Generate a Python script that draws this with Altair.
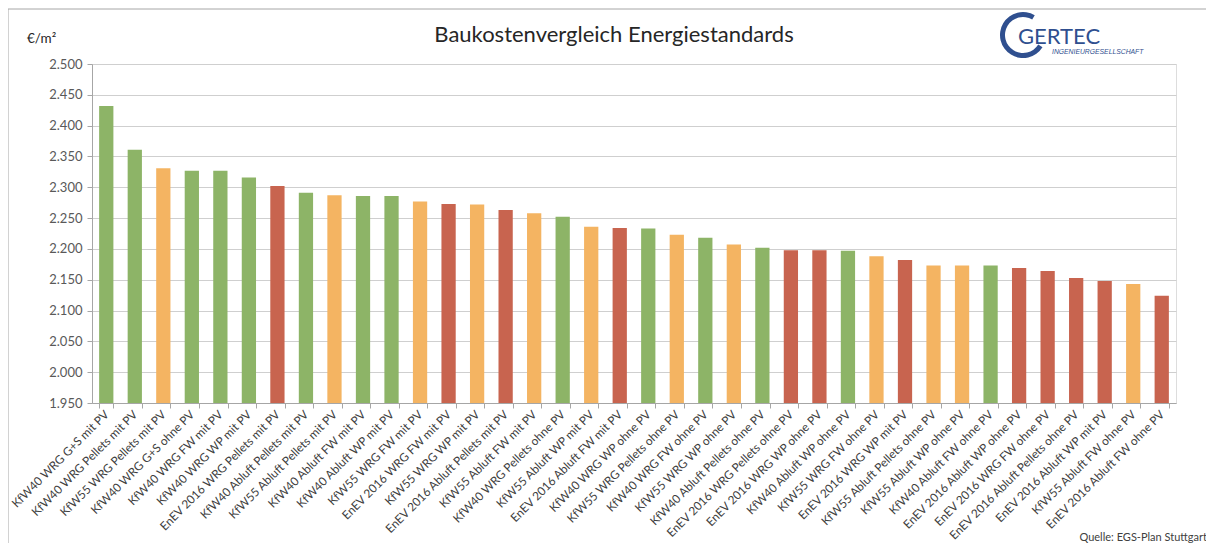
import altair as alt
import pandas as pd

labels = [
    "KfW40 WRG G+S mit PV", "KfW40 WRG Pellets mit PV", "KfW55 WRG Pellets mit PV",
    "KfW40 WRG G+S ohne PV", "KfW40 WRG FW mit PV", "KfW40 WRG WP mit PV",
    "EnEV 2016 WRG Pellets mit PV", "KfW40 Abluft Pellets mit PV", "KfW55 Abluft Pellets mit PV",
    "KfW40 Abluft FW mit PV", "KfW40 Abluft WP mit PV", "KfW55 WRG FW mit PV",
    "EnEV 2016 WRG FW mit PV", "KfW55 WRG WP mit PV", "EnEV 2016 Abluft Pellets mit PV",
    "KfW55 Abluft FW mit PV", "KfW40 WRG Pellets ohne PV", "KfW55 Abluft WP mit PV",
    "EnEV 2016 Abluft FW mit PV", "KfW40 WRG WP ohne PV", "KfW55 WRG Pellets ohne PV",
    "KfW40 WRG FW ohne PV", "KfW55 WRG WP ohne PV", "KfW40 Abluft Pellets ohne PV",
    "EnEV 2016 WRG Pellets ohne PV", "EnEV 2016 WRG WP ohne PV", "KfW40 Abluft WP ohne PV",
    "KfW55 WRG FW ohne PV", "EnEV 2016 WRG WP mit PV", "KfW55 Abluft Pellets ohne PV",
    "KfW55 Abluft WP ohne PV", "KfW40 Abluft FW ohne PV", "EnEV 2016 Abluft WP ohne PV",
    "EnEV 2016 WRG FW ohne PV", "EnEV 2016 Abluft Pellets ohne PV", "EnEV 2016 Abluft WP mit PV",
    "KfW55 Abluft FW ohne PV", "EnEV 2016 Abluft FW ohne PV",
]
values = [
    2432, 2361, 2331, 2327, 2327, 2316, 2302, 2291, 2287, 2286, 2286, 2277,
    2273, 2272, 2263, 2258, 2252, 2236, 2234, 2233, 2223, 2218, 2207, 2202,
    2198, 2198, 2197, 2188, 2182, 2173, 2173, 2173, 2169, 2164, 2153, 2148,
    2143, 2124,
]
y_ticks = [1950, 2000, 2050, 2100, 2150, 2200, 2250, 2300, 2350, 2400, 2450, 2500]
groups = ["KfW40", "KfW55", "EnEV 2016"]
group_colors = ["#8DB467", "#F4B462", "#C8644F"]

def group_of(label):
    for g in groups:
        if label.startswith(g):
            return g
    return groups[0]

df = pd.DataFrame({
    "Variante": labels,
    "Kosten": values,
    "Standard": [group_of(l) for l in labels],
})

W, H = 1084, 339
FONT = "Lato"
TXT = "#404040"

bars = alt.Chart(df).mark_bar().encode(
    x=alt.X(
        "Variante:N",
        sort=labels,
        scale=alt.Scale(paddingInner=0.5, paddingOuter=0.25),
        axis=alt.Axis(
            title=None, labelAngle=-45, labelAlign="right", labelBaseline="middle",
            labelFont=FONT, labelFontSize=11.8, labelColor=TXT, labelPadding=4,
            tickBand="extent", tickSize=5, tickColor="#A6A6A6",
            domainColor="#A6A6A6", grid=False, labelOverlap=False, labelLimit=300,
        ),
    ),
    y=alt.Y(
        "Kosten:Q",
        scale=alt.Scale(domain=[y_ticks[0], y_ticks[-1]], zero=False, nice=False),
        axis=alt.Axis(
            title=None, values=y_ticks,
            labelExpr="replace(format(datum.value, ',d'), ',', '.')",
            labelFont=FONT, labelFontSize=13, labelColor="#595959", labelPadding=5,
            tickSize=5, tickColor="#A6A6A6", domainColor="#A6A6A6",
            gridColor="#CFCFCF", gridWidth=1,
        ),
    ),
    y2=alt.datum(y_ticks[0]),
    color=alt.Color("Standard:N", scale=alt.Scale(domain=groups, range=group_colors), legend=None),
)

one = alt.Data(values=[{}])

border_top = alt.Chart(one).mark_rule(color="#A6A6A6", strokeWidth=1).encode(
    x=alt.value(-84), x2=alt.value(1200), y=alt.value(-55)
)
border_left = alt.Chart(one).mark_rule(color="#A6A6A6", strokeWidth=1).encode(
    x=alt.value(-84), y=alt.value(-55), y2=alt.value(600)
)

title = alt.Chart(one).mark_text(
    font=FONT, fontSize=22, color="#262626", align="center", baseline="middle"
).encode(x=alt.value(522), y=alt.value(-29), text=alt.value("Baukostenvergleich Energiestandards"))

unit = alt.Chart(one).mark_text(
    font=FONT, fontSize=13.5, color="#262626", align="left", baseline="middle"
).encode(x=alt.value(-65), y=alt.value(-25), text=alt.value("€/m²"))

source = alt.Chart(one).mark_text(
    font=FONT, fontSize=11, color="#404040", align="right", baseline="alphabetic"
).encode(x=alt.value(1115), y=alt.value(477), text=alt.value("Quelle: EGS-Plan Stuttgart"))

logo_arc = alt.Chart(one).mark_arc(
    color="#2F4F8F", theta=2.13, theta2=6.82, radius=23, radius2=18
).encode(x=alt.value(931), y=alt.value(-29))

logo_text = alt.Chart(one).mark_text(
    font=FONT, fontSize=22, color="#2F4F8F", align="left", baseline="alphabetic"
).encode(x=alt.value(926), y=alt.value(-20), text=alt.value("GERTEC"))

logo_sub = alt.Chart(one).mark_text(
    font="Liberation Sans", fontSize=6.8, fontStyle="italic", color="#2F4F8F",
    align="left", baseline="alphabetic"
).encode(x=alt.value(960), y=alt.value(-10), text=alt.value("INGENIEURGESELLSCHAFT"))

chart = alt.layer(
    border_top, border_left, bars, title, unit, source, logo_arc, logo_text, logo_sub
).properties(
    width=W, height=H,
    autosize=alt.AutoSizeParams(type="none"),
    padding={"left": 84, "top": 56, "right": 30, "bottom": 140},
).configure_view(stroke=None).configure(background="white")

chart.save("out.html", embed_options={"renderer": "svg", "actions": False})
